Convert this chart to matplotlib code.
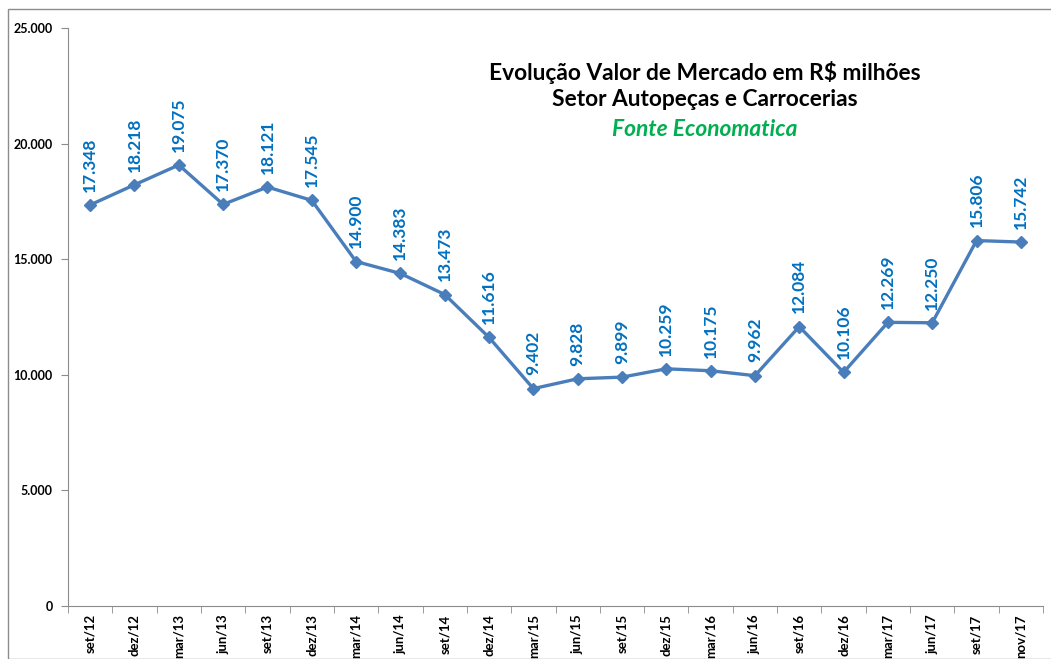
import matplotlib.pyplot as plt
from matplotlib.patches import Rectangle

plt.rcParams['font.family'] = ['Lato', 'DejaVu Sans']

# trimestres
datas = ['set/12', 'dez/12', 'mar/13', 'jun/13', 'set/13', 'dez/13', 'mar/14', 'jun/14',
         'set/14', 'dez/14', 'mar/15', 'jun/15', 'set/15', 'dez/15', 'mar/16', 'jun/16',
         'set/16', 'dez/16', 'mar/17', 'jun/17', 'set/17', 'nov/17']
# valor de mercado em R$ milhoes
valores = [17348, 18218, 19075, 17370, 18121, 17545, 14900, 14383, 13473, 11616, 9402,
           9828, 9899, 10259, 10175, 9962, 12084, 10106, 12269, 12250, 15806, 15742]

def fmt(v):
    return f'{v:,}'.replace(',', '.')

fig = plt.figure(figsize=(10.51, 6.59), dpi=100)
# moldura externa
fig.patches.append(Rectangle((8 / 1051, 0), 1.0, 1 - 9 / 659, transform=fig.transFigure,
                             fill=False, edgecolor='#8c8c8c', linewidth=1.0))

ax = fig.add_axes([68 / 1051, 1 - 606 / 659, 975 / 1051, 578 / 659])

x = list(range(len(datas)))
ax.plot(x, valores, color='#4a7ebb', linewidth=2.4, marker='D', markersize=6)

for xi, v in zip(x, valores):
    ax.annotate(fmt(v), (xi, v), xytext=(0, 9.5), textcoords='offset points',
                rotation=90, ha='center', va='bottom', color='#0070c0',
                fontsize=12.5, fontweight='bold')

ax.set_xlim(-0.5, len(datas) - 0.5)
ax.set_ylim(0, 25000)
ax.set_yticks(range(0, 25001, 5000))
ax.set_yticklabels([fmt(t) for t in range(0, 25001, 5000)], fontsize=9, fontweight='bold')
ax.set_xticks(x)
ax.set_xticklabels(datas, rotation=90, fontsize=9.5, fontweight='bold', va='top')
ax.set_xticks([i + 0.5 for i in range(-1, len(datas))], minor=True)
ax.tick_params(axis='x', which='major', length=0, pad=6)
ax.tick_params(axis='x', which='minor', length=5, color='#8c8c8c')
ax.tick_params(axis='y', length=5, color='#8c8c8c', pad=6)

for s in ['top', 'right']:
    ax.spines[s].set_visible(False)
for s in ['left', 'bottom']:
    ax.spines[s].set_color('#8c8c8c')

fig.text(705 / 1051, 1 - 72 / 659, 'Evolução Valor de Mercado em R$ milhões', ha='center',
         va='center', fontsize=16.4, fontweight='bold')
fig.text(705 / 1051, 1 - 100 / 659, 'Setor Autopeças e Carrocerias', ha='center',
         va='center', fontsize=16.4, fontweight='bold')
fig.text(705 / 1051, 1 - 130 / 659, 'Fonte Economatica', ha='center', va='center',
         fontsize=16.4, fontweight='bold', style='italic', color='#00b050')

fig.savefig('out.png', dpi=100)
